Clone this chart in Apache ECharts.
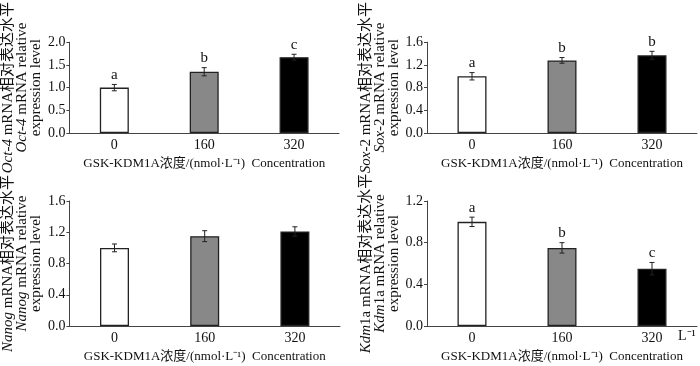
<!DOCTYPE html>
<html>
<head>
<meta charset="utf-8">
<script src="https://cdn.jsdelivr.net/npm/echarts@6/dist/echarts.min.js"></script>
<style>
  html, body { margin: 0; padding: 0; background: #fff; }
  #chart { width: 700px; height: 366px; }
</style>
</head>
<body>
<div id="chart"></div>
<script>
// chart data
const concentrations = ["0", "160", "320"];
const oct4 = [1.0, 1.35, 1.67];
const oct4Err = [0.07, 0.09, 0.065];
const oct4Sig = ["a", "b", "c"];
const sox2 = [1.0, 1.28, 1.37];
const sox2Err = [0.065, 0.05, 0.07];
const sox2Sig = ["a", "b", "b"];
const nanog = [1.0, 1.15, 1.21];
const nanogErr = [0.05, 0.07, 0.06];
const nanogSig = ["", "", ""];
const kdm1a = [1.0, 0.75, 0.55];
const kdm1aErr = [0.045, 0.05, 0.06];
const kdm1aSig = ["a", "b", "c"];

const FONT = '"Liberation Serif", "Noto Sans CJK SC", serif';
const barColors = ["#ffffff", "#888888", "#000000"];
const xName = "GSK-KDM1A浓度/(nmol·L⁻¹)  Concentration";

const panels = [
  { vals: oct4, err: oct4Err, sig: oct4Sig, max: 2.0, step: 0.5,
    name: "{i|Oct-4} mRNA相对表达水平\n{i|Oct-4} mRNA relative\nexpression level",
    grid: { left: 67, top: 9, width: 272, height: 124 } },
  { vals: sox2, err: sox2Err, sig: sox2Sig, max: 1.6, step: 0.4,
    name: "{i|Sox}-2 mRNA相对表达水平\n{i|Sox}-2 mRNA relative\nexpression level",
    grid: { left: 427, top: 9, width: 270, height: 124 } },
  { vals: nanog, err: nanogErr, sig: nanogSig, max: 1.6, step: 0.4,
    name: "{i|Nanog} mRNA相对表达水平\n{i|Nanog} mRNA relative\nexpression level",
    grid: { left: 68, top: 201, width: 272, height: 125 } },
  { vals: kdm1a, err: kdm1aErr, sig: kdm1aSig, max: 1.2, step: 0.4,
    name: "{i|Kdm}1a mRNA相对表达水平\n{i|Kdm}1a mRNA relative\nexpression level",
    grid: { left: 427, top: 201, width: 270, height: 125 } },
];

const chart = echarts.init(document.getElementById("chart"));

const grids = [], xAxes = [], yAxes = [], series = [];

panels.forEach((p, k) => {
  grids.push(p.grid);
  xAxes.push({
    type: "category", gridIndex: k, data: concentrations,
    axisLine: { lineStyle: { color: "#444", width: 1 } },
    axisTick: { show: false },
    axisLabel: { color: "#111", fontFamily: FONT, fontSize: 14, margin: 5 },
    name: xName, nameLocation: "middle", nameGap: 24,
    nameTextStyle: { color: "#111", fontFamily: FONT, fontSize: 13 },
  });
  yAxes.push({
    type: "value", gridIndex: k, min: 0, max: p.max, interval: p.step,
    splitLine: { show: false },
    axisLine: { show: true, lineStyle: { color: "#444", width: 1 } },
    axisTick: { show: true, length: 3, lineStyle: { color: "#444" } },
    axisLabel: { color: "#111", fontFamily: FONT, fontSize: 14, margin: 4,
      formatter: (v) => v.toFixed(1) },
    name: p.name, nameLocation: "middle", nameRotate: 90, nameGap: 25,
    nameTextStyle: { color: "#111", fontFamily: FONT, fontSize: 15, lineHeight: 14,
      rich: { i: { fontStyle: "italic", fontFamily: FONT, fontSize: 15, lineHeight: 14 } } },
  });
  series.push({
    type: "bar", xAxisIndex: k, yAxisIndex: k, barWidth: 29,
    data: p.vals.map((v, i) => ({
      value: v,
      itemStyle: { color: barColors[i], borderColor: "#222", borderWidth: 1.3 },
    })),
  });
  series.push({
    type: "custom", xAxisIndex: k, yAxisIndex: k, z: 5,
    data: p.vals.map((v, i) => [i, v + p.err[i], v - p.err[i]]),
    renderItem: (params, api) => {
      const top = api.coord([api.value(0), api.value(1)]);
      const bot = api.coord([api.value(0), api.value(2)]);
      const x = top[0];
      const st = { stroke: "#222", lineWidth: 1 };
      const kids = [
        { type: "line", shape: { x1: x, y1: top[1], x2: x, y2: bot[1] }, style: st },
        { type: "line", shape: { x1: x - 2.5, y1: top[1], x2: x + 2.5, y2: top[1] }, style: st },
        { type: "line", shape: { x1: x - 2.5, y1: bot[1], x2: x + 2.5, y2: bot[1] }, style: st },
      ];
      const letter = p.sig[params.dataIndex];
      if (letter) {
        kids.push({ type: "text", style: { x: x, y: top[1] - 2, text: letter,
          fill: "#111", font: "15px " + FONT, align: "center", verticalAlign: "bottom" } });
      }
      return { type: "group", children: kids };
    },
  });
});

chart.setOption({
  animation: false,
  grid: grids,
  xAxis: xAxes,
  yAxis: yAxes,
  series: series,
  graphic: [
    { type: "text", left: 678, top: 329,
      style: { text: "L⁻¹", fill: "#111", font: "14px " + FONT } },
  ],
});
</script>
</body>
</html>
